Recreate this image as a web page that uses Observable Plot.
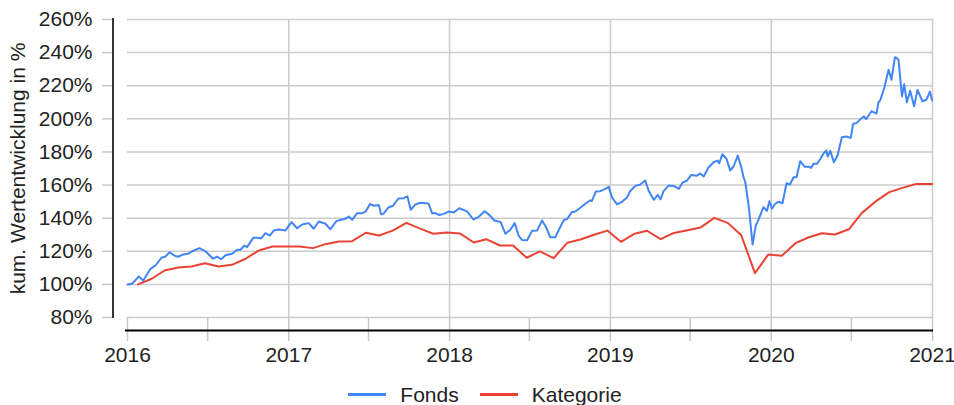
<!DOCTYPE html>
<html>
<head>
<meta charset="utf-8">
<script src="https://cdn.jsdelivr.net/npm/d3@7"></script>
<script src="https://cdn.jsdelivr.net/npm/@observablehq/plot@0.6"></script>
<style>
  html, body { margin: 0; padding: 0; background: #fff; }
  body { width: 954px; height: 405px; overflow: hidden; font-family: "Liberation Sans", Arial, sans-serif; }
  #legend { display: flex; justify-content: center; align-items: center; height: 21px; line-height: 21px; font-size: 21px; color: #222; padding-left: 16px; }
  .item { display: flex; align-items: center; }
  .sw { width: 38px; height: 3px; margin-right: 14px; }
  .item + .item { margin-left: 21px; }
</style>
</head>
<body>
<div id="chart"></div>
<div id="legend"></div>
<script>
// ---- data ----
const seriesNames = ["Fonds", "Kategorie"];
const seriesColors = ["#4285f4", "#ea4335"];
const yTickValues = [80, 100, 120, 140, 160, 180, 200, 220, 240, 260];
const yearLabels = ["2016", "2017", "2018", "2019", "2020", "2021"];
const halfYearTicks = ["2016-01-01","2016-07-01","2017-01-01","2017-07-01","2018-01-01","2018-07-01","2019-01-01","2019-07-01","2020-01-01","2020-07-01","2021-01-01"];
const yTitle = "kum. Wertentwicklung in %";

// Fonds: time as decimal year, value in %
const fondsT = [2016.000,2016.029,2016.070,2016.098,2016.143,2016.174,2016.211,2016.236,2016.261,2016.292,
2016.315,2016.346,2016.375,2016.402,2016.447,2016.484,2016.505,2016.532,2016.557,2016.582,
2016.609,2016.650,2016.681,2016.702,2016.727,2016.743,2016.781,2016.806,2016.832,2016.857,
2016.884,2016.909,2016.940,2016.981,2017.019,2017.054,2017.085,2017.126,2017.157,2017.188,
2017.230,2017.261,2017.298,2017.327,2017.354,2017.375,2017.396,2017.427,2017.458,2017.480,
2017.507,2017.530,2017.561,2017.576,2017.590,2017.623,2017.650,2017.683,2017.716,2017.739,
2017.760,2017.789,2017.820,2017.870,2017.893,2017.913,2017.938,2017.965,2017.996,2018.027,
2018.062,2018.110,2018.149,2018.182,2018.219,2018.248,2018.280,2018.319,2018.348,2018.379,
2018.406,2018.430,2018.453,2018.483,2018.514,2018.545,2018.576,2018.600,2018.627,2018.658,
2018.689,2018.712,2018.733,2018.760,2018.783,2018.814,2018.845,2018.873,2018.886,2018.910,
2018.938,2018.969,2018.990,2019.011,2019.042,2019.073,2019.104,2019.124,2019.155,2019.184,
2019.217,2019.239,2019.270,2019.295,2019.312,2019.331,2019.362,2019.393,2019.426,2019.449,
2019.476,2019.503,2019.536,2019.559,2019.580,2019.611,2019.642,2019.666,2019.677,2019.696,
2019.722,2019.745,2019.766,2019.792,2019.814,2019.828,2019.839,2019.862,2019.884,2019.904,
2019.915,2019.927,2019.952,2019.973,2019.989,2020.004,2020.025,2020.045,2020.070,2020.095,
2020.116,2020.139,2020.157,2020.180,2020.209,2020.236,2020.248,2020.263,2020.284,2020.306,
2020.327,2020.342,2020.351,2020.367,2020.389,2020.412,2020.439,2020.468,2020.494,2020.509,
2020.530,2020.550,2020.575,2020.590,2020.623,2020.654,2020.667,2020.677,2020.702,2020.729,
2020.747,2020.768,2020.774,2020.791,2020.812,2020.826,2020.843,2020.863,2020.888,2020.909,
2020.940,2020.964,2020.986,2021.000];
const fondsV = [100.0,100.4,104.8,102.3,109.4,111.4,116.1,116.8,119.4,117.4,
116.7,118.1,118.5,120.0,121.9,120.0,118.1,115.5,116.8,115.2,
117.6,118.5,120.9,120.9,123.5,122.5,128.1,128.1,127.9,130.9,
129.5,132.5,133.2,132.5,137.6,133.9,136.2,137.0,133.6,138.0,
136.6,133.3,138.2,139.0,139.6,141.0,139.0,143.0,143.0,144.0,
148.6,147.5,147.9,142.3,142.6,146.6,147.5,151.9,152.1,153.2,
145.1,148.3,149.3,148.9,142.9,143.1,141.9,142.6,144.0,143.4,
146.0,144.1,139.2,140.8,144.2,142.0,138.6,137.6,130.6,133.0,
137.0,129.5,126.8,126.7,132.4,132.5,138.6,134.7,128.5,128.5,
134.7,138.9,139.6,143.6,144.0,146.3,148.7,150.7,150.4,156.1,
156.3,157.7,158.9,152.5,148.3,149.9,152.5,156.4,159.5,160.2,
162.7,156.4,151.1,154.0,151.4,156.3,159.7,159.5,157.7,161.5,
162.6,166.1,165.6,167.0,165.2,170.8,173.8,174.8,173.2,178.6,
175.9,168.8,171.2,177.8,170.8,164.7,161.7,145.7,124.1,135.6,
137.6,140.6,146.6,144.4,150.2,145.7,148.7,149.9,149.0,161.1,
160.3,164.7,164.7,174.4,171.0,171.0,170.4,172.8,172.8,175.9,
179.4,180.9,177.2,180.7,173.8,177.8,188.9,189.3,188.5,197.0,
197.4,199.4,201.4,199.9,204.6,203.2,210.2,211.1,218.6,229.6,
223.6,236.9,237.2,235.7,213.5,220.9,210.0,216.9,207.6,217.5,
210.6,211.5,216.4,211.1];

// Kategorie: monthly points
const katDates = ["2016-01-25","2016-02-25","2016-03-25","2016-04-25","2016-05-25","2016-06-25","2016-07-25","2016-08-25","2016-09-25","2016-10-25","2016-11-25","2016-12-25",
"2017-01-25","2017-02-25","2017-03-25","2017-04-25","2017-05-25","2017-06-25","2017-07-25","2017-08-25","2017-09-25","2017-10-25","2017-11-25","2017-12-25",
"2018-01-25","2018-02-25","2018-03-25","2018-04-25","2018-05-25","2018-06-25","2018-07-25","2018-08-25","2018-09-25","2018-10-25","2018-11-25","2018-12-25",
"2019-01-25","2019-02-25","2019-03-25","2019-04-25","2019-05-25","2019-06-25","2019-07-25","2019-08-25","2019-09-25","2019-10-25","2019-11-25","2019-12-25",
"2020-01-25","2020-02-25","2020-03-25","2020-04-25","2020-05-25","2020-06-25","2020-07-25","2020-08-25","2020-09-25","2020-10-25","2020-11-25","2020-12-31"];
const katV = [100.0,103.4,108.4,110.2,110.8,112.8,110.8,111.8,115.5,120.5,
122.9,122.9,122.9,121.9,124.3,125.9,126.1,131.2,129.5,132.5,
137.2,133.8,130.6,131.3,130.7,125.3,127.3,123.5,123.5,116.1,
120.0,115.8,125.1,127.1,130.0,132.5,125.7,130.6,132.4,127.3,
131.1,132.7,134.4,140.2,137.0,129.7,106.8,118.0,117.3,124.9,
128.3,130.9,130.1,133.3,143.2,150.1,155.7,158.3,160.7,160.7];

// ---- build ----
const fromYear = t => new Date(Date.UTC(2016, 0, 1) + (t - 2016) * 365.25 * 864e5);
const fonds = fondsT.map((t, i) => ({date: fromYear(t), value: fondsV[i]}));
const kat = katDates.map((d, i) => ({date: new Date(d + "T00:00:00Z"), value: katV[i]}));
const yearDates = yearLabels.map(y => new Date(y + "-01-01T00:00:00Z"));
const halfDates = halfYearTicks.map(d => new Date(d + "T00:00:00Z"));

const H = 384;
const chart = Plot.plot({
  width: 954,
  height: H,
  marginLeft: 127,
  marginRight: 22,
  marginTop: 19,
  marginBottom: H - 317,
  style: {fontFamily: "'Liberation Sans', Arial, sans-serif", fontSize: "21px", color: "#222", background: "#fff", overflow: "visible"},
  x: {type: "utc", domain: [yearDates[0], yearDates[yearDates.length - 1]]},
  y: {domain: [80, 260]},
  marks: [
    Plot.ruleY(yTickValues, {stroke: "#cccccc", strokeWidth: 1.5}),
    Plot.ruleX(yearDates.slice(1), {stroke: "#cccccc", strokeWidth: 1.5}),
    Plot.axisY({ticks: yTickValues, tickSize: 10, dx: -15, tickPadding: 10, stroke: "#c8c8c8", strokeWidth: 1.5, fill: "#222", tickFormat: d => d + "%", label: null, fontSize: 21}),
    Plot.ruleX([yearDates[0]], {dx: -14.5, stroke: "#000", strokeWidth: 1.6, insetTop: -1, insetBottom: -1}),
    Plot.axisX({ticks: halfDates, tickSize: 24, stroke: "#c8c8c8", strokeWidth: 1.5, tickFormat: () => "", label: null}),
    Plot.axisX({ticks: yearDates, tickSize: 0, tickPadding: 30, tickFormat: d3.utcFormat("%Y"), label: null, fill: "#222", fontSize: 21}),
    Plot.ruleY([80], {dy: 13, stroke: "#000", strokeWidth: 2, insetLeft: -2, insetRight: -1}),
    Plot.line(kat, {x: "date", y: "value", stroke: seriesColors[1], strokeWidth: 2}),
    Plot.line(fonds, {x: "date", y: "value", stroke: seriesColors[0], strokeWidth: 2}),
    Plot.text([yTitle], {frameAnchor: "left", textAnchor: "middle", rotate: -90, dx: -109, fontSize: 21, fill: "#222"})
  ]
});
document.getElementById("chart").appendChild(chart);

const legend = document.getElementById("legend");
seriesNames.forEach((name, i) => {
  const item = document.createElement("div");
  item.className = "item";
  const sw = document.createElement("div");
  sw.className = "sw";
  sw.style.background = seriesColors[i];
  const tx = document.createElement("span");
  tx.textContent = name;
  item.appendChild(sw);
  item.appendChild(tx);
  legend.appendChild(item);
});
</script>
</body>
</html>
